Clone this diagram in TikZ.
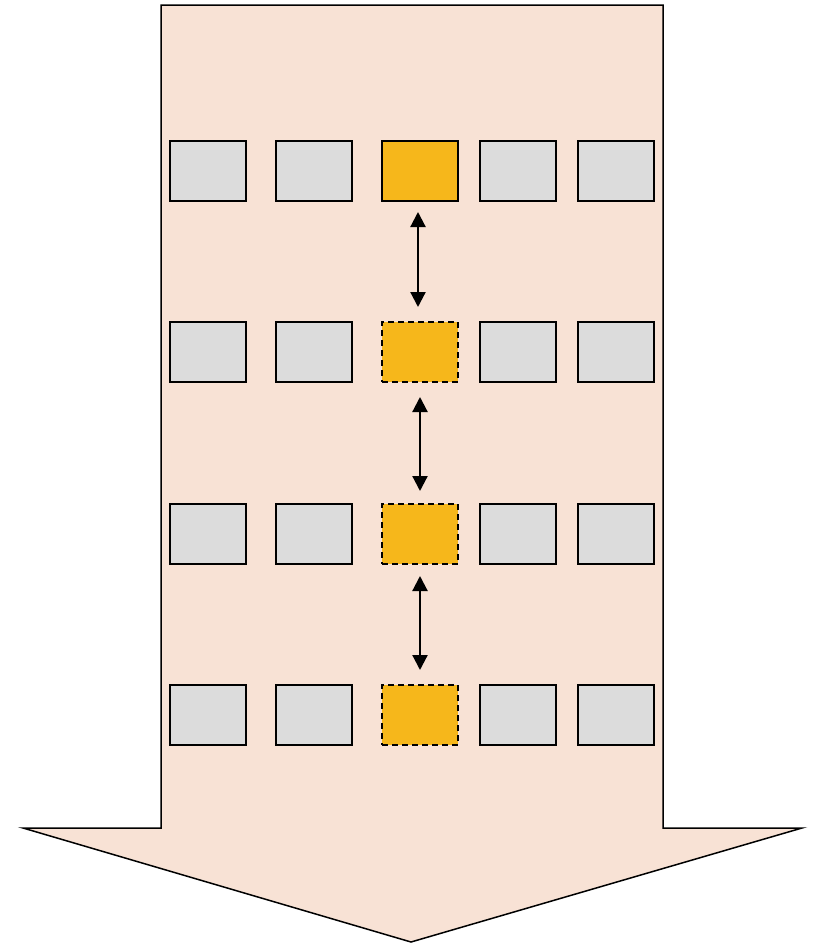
\documentclass[tikz,border=0pt]{standalone}
\usetikzlibrary{arrows.meta}
\definecolor{peach}{HTML}{F8E2D5}
\definecolor{boxgray}{HTML}{DCDCDC}
\definecolor{amber}{HTML}{F6B71B}
\tikzset{
  cell/.style={draw=black, line width=1.3pt, minimum width=76pt, minimum height=60pt, inner sep=0pt, outer sep=0pt, anchor=north west},
  graycell/.style={cell, fill=boxgray},
  keycell/.style={cell, fill=amber},
  copycell/.style={cell, fill=amber, dash pattern=on 6pt off 4pt},
  link/.style={line width=2.2pt, {Triangle[width=15pt,length=15pt]}-{Triangle[width=15pt,length=15pt]}}
}
\begin{document}
\begin{tikzpicture}[x=1pt,y=-1pt]
\useasboundingbox (0,0) rectangle (812,945);
\draw[fill=peach, line width=1.5pt, line join=miter]
  (161,5) -- (663,5) -- (663,828) -- (802,828) -- (411,942) -- (23,828) -- (161,828) -- cycle;
\foreach \r/\y in {1/141,2/322,3/504,4/685}{
  \node[graycell] (a\r) at (170,\y) {};
  \node[graycell] (b\r) at (276,\y) {};
  \node[graycell] (d\r) at (480,\y) {};
  \node[graycell] (e\r) at (578,\y) {};
}
\node[keycell] (c1) at (382,141) {};
\node[copycell] (c2) at (382,322) {};
\node[copycell] (c3) at (382,504) {};
\node[copycell] (c4) at (382,685) {};
\draw[link, shorten <=11pt, shorten >=15pt] ([xshift=-2pt]c1.south) -- ([xshift=-2pt]c2.north);
\draw[link, shorten <=15pt, shorten >=13pt] (c2.south) -- (c3.north);
\draw[link, shorten <=12pt, shorten >=15pt] (c3.south) -- (c4.north);
\end{tikzpicture}
\end{document}
